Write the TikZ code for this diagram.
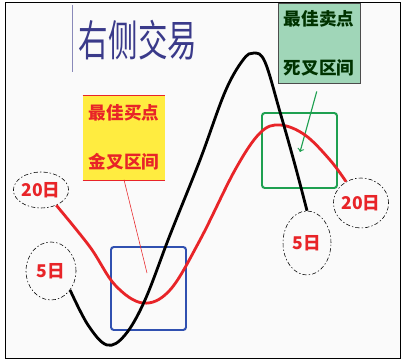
\documentclass[tikz,border=0pt]{standalone}
\usepackage{fontspec}
\newfontfamily\cjk{Noto Sans CJK SC}
\usetikzlibrary{shapes.geometric}
\definecolor{titleblue}{RGB}{58,58,138}
\definecolor{linered}{RGB}{232,36,40}
\definecolor{zonegreen}{RGB}{30,160,80}
\definecolor{boxgreen}{RGB}{160,214,184}
\definecolor{zoneblue}{RGB}{48,80,176}
\definecolor{boxyellow}{RGB}{255,236,64}

\begin{document}
\begin{tikzpicture}[x=0.025cm, y=-0.025cm,
    dayring/.style={ellipse, draw, thin, dash pattern=on 3pt off 1.5pt on 1pt off 1.5pt,
        text=linered, inner sep=0pt, font=\cjk\bfseries\fontsize{12.5}{12.5}\selectfont},
    notebox/.style={minimum width=2.05cm, minimum height=2.1cm, align=center,
        font=\cjk\bfseries\fontsize{12.5}{35}\selectfont},
    zone/.style={line width=1.4pt, rounded corners=2pt}]

    % frame
    \useasboundingbox (0,0) rectangle (402,361);
    \draw [thin, fill=black!2] (5,2) rectangle (400,358);

    % title
    \draw [titleblue!60, thin] (72,5) -- (72,72);
    \node [text=titleblue] (title) at (138,40)
        {\scalebox{1}[1.45]{\cjk\fontsize{21}{21}\selectfont 右侧交易}};

    % note boxes
    \node [notebox, fill=boxyellow, text=linered] (buy) at (124,137.5) {最佳买点\\金叉区间};
    \draw [linered, thin] (buy.north west) -- (buy.north east);
    \draw [linered, thin] (buy.south west) -- (buy.south east);
    \node [notebox, fill=boxgreen, draw=black!70, text=black!80!green, minimum height=2cm] (sell) at (319,43) {最佳卖点\\死叉区间};

    % zones
    \draw [zone, zoneblue] (111,247) rectangle (186,330);
    \draw [zone, zonegreen] (262,113) rectangle (337,188);
    \coordinate (golden) at (147,273);
    \coordinate (death) at (300,152);
    \draw [linered, thin] (buy.south) -- (golden);
    \draw [zonegreen, thick, ->, shorten <=6pt] (sell.south) -- (death);

    % day labels
    \node [dayring, minimum width=1.15cm, minimum height=0.9cm] (ma20a) at (41,190) {20日};
    \node [dayring, minimum width=1.25cm, minimum height=1.45cm] (ma5a) at (51,271) {5日};
    \node [dayring, minimum width=1.2cm, minimum height=1.6cm] (ma5b) at (307,243) {5日};
    \node [dayring, minimum width=1.3cm, minimum height=1.25cm] (ma20b) at (361,203) {20日};

    % 20 day line
    \draw [linered, line width=2pt] plot [smooth, tension=0.6] coordinates {
        (ma20a.-45) (90,247) (115,285) (143,303) (170,290) (200,240)
        (235,170) (260,133) (280,125) (305,135) (330,160) (ma20b.125)};
    % 5 day line
    \draw [black, line width=2pt] plot [smooth, tension=0.6] coordinates {
        (ma5a.-45) (88,325) (107,345) (125,335) (145,300) (170,235)
        (200,160) (225,92) (243,60) (254,53) (265,62) (280,112) (295,165) (ma5b.north)};
\end{tikzpicture}
\end{document}
